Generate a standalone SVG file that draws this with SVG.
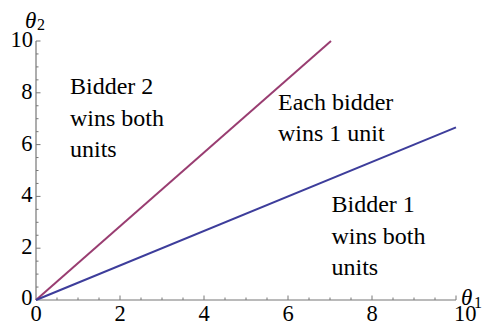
<svg xmlns="http://www.w3.org/2000/svg" width="485" height="321" viewBox="0 0 485 321">
<rect width="485" height="321" fill="#fff"/>
<g id="axes" fill="none" stroke="#777">
<path stroke-width="1.2" d="M36 300H456M36 300V41"/>
<path stroke-width="1" d="M57 300v-2.5M78 300v-2.5M99 300v-2.5M141 300v-2.5M162 300v-2.5M183 300v-2.5M225 300v-2.5M246 300v-2.5M267 300v-2.5M309 300v-2.5M330 300v-2.5M351 300v-2.5M393 300v-2.5M414 300v-2.5M435 300v-2.5"/>
<path stroke-width="1" d="M120 300v-4.5M204 300v-4.5M288 300v-4.5M372 300v-4.5M456 300v-4.5"/>
<path stroke-width="1" d="M36 287.05h2.5M36 274.1h2.5M36 261.15h2.5M36 235.25h2.5M36 222.3h2.5M36 209.35h2.5M36 183.45h2.5M36 170.5h2.5M36 157.55h2.5M36 131.65h2.5M36 118.7h2.5M36 105.75h2.5M36 79.85h2.5M36 66.9h2.5M36 53.95h2.5"/>
<path stroke-width="1" d="M36 248.2h4.5M36 196.4h4.5M36 144.6h4.5M36 92.8h4.5M36 41h4.5"/>
</g>
<g id="tick-labels">
<text font-size="22.5" font-family="Times New Roman" text-anchor="middle" x="36" y="321">0</text>
<text font-size="22.5" font-family="Times New Roman" text-anchor="middle" x="120" y="321">2</text>
<text font-size="22.5" font-family="Times New Roman" text-anchor="middle" x="204" y="321">4</text>
<text font-size="22.5" font-family="Times New Roman" text-anchor="middle" x="288" y="321">6</text>
<text font-size="22.5" font-family="Times New Roman" text-anchor="middle" x="372" y="321">8</text>
<text font-size="22.5" font-family="Times New Roman" x="454" y="321">10</text>
<text font-size="22.5" font-family="Times New Roman" text-anchor="end" x="32.5" y="305">0</text>
<text font-size="22.5" font-family="Times New Roman" text-anchor="end" x="32.5" y="254">2</text>
<text font-size="22.5" font-family="Times New Roman" text-anchor="end" x="32.5" y="202.4">4</text>
<text font-size="22.5" font-family="Times New Roman" text-anchor="end" x="32.5" y="150.6">6</text>
<text font-size="22.5" font-family="Times New Roman" text-anchor="end" x="32.5" y="98.8">8</text>
<text font-size="22.5" font-family="Times New Roman" text-anchor="end" x="33" y="47">10</text>
</g>
<g id="axis-labels">
<text font-family="Times New Roman" font-size="23" font-style="italic" x="25" y="28">θ</text>
<text font-family="Times New Roman" font-size="16" x="37" y="30">2</text>
<text font-family="Times New Roman" font-size="23" font-style="italic" x="461" y="305">θ</text>
<text font-family="Times New Roman" font-size="16" x="474" y="308">1</text>
</g>
<g id="curves" stroke-width="2">
<line x1="36" y1="300" x2="331" y2="41" stroke="#993d71"/>
<line x1="36" y1="300" x2="456" y2="127.3" stroke="#3d3d9b"/>
</g>
<g id="region-bidder2">
<text font-size="24" font-family="Times New Roman" x="70" y="94">Bidder 2</text>
<text font-size="24" font-family="Times New Roman" x="70" y="125.5">wins both</text>
<text font-size="24" font-family="Times New Roman" x="70" y="157">units</text>
</g>
<g id="region-each">
<text font-size="24" font-family="Times New Roman" x="278" y="110">Each bidder</text>
<text font-size="24" font-family="Times New Roman" x="278" y="141">wins 1 unit</text>
</g>
<g id="region-bidder1">
<text font-size="24" font-family="Times New Roman" x="331.5" y="212">Bidder 1</text>
<text font-size="24" font-family="Times New Roman" x="331.5" y="243.5">wins both</text>
<text font-size="24" font-family="Times New Roman" x="331.5" y="275">units</text>
</g>
</svg>
